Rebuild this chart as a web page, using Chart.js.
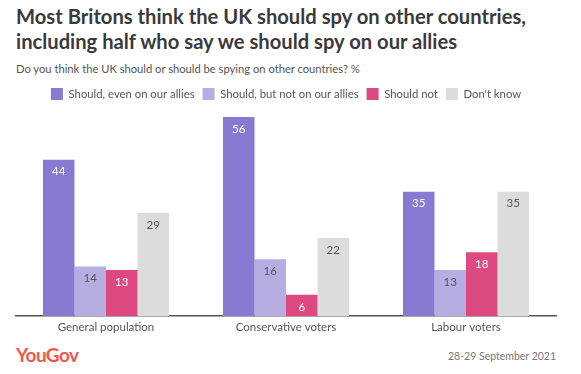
<!DOCTYPE html>
<html>
<head>
<meta charset="utf-8">
<script src="https://cdn.jsdelivr.net/npm/chart.js@4"></script>
<style>
  html,body{margin:0;padding:0;background:#fff;}
  body{width:581px;height:374px;position:relative;overflow:hidden;font-family:Lato,'Open Sans',sans-serif;}
  #title{position:absolute;left:16px;top:4px;font-size:20.2px;font-weight:700;color:#3a3a3a;line-height:25px;}
  #sub{position:absolute;left:16px;top:62px;font-size:11.2px;color:#555;}
  #wrap{position:absolute;left:0;top:80px;width:581px;height:258px;}
  #logo{position:absolute;left:16px;top:343px;font-size:19px;font-weight:700;color:#f4574b;letter-spacing:-0.6px;}
  #date{position:absolute;right:25px;top:350px;font-size:10.5px;color:#777;}
</style>
</head>
<body>
<div id="title">Most Britons think the UK should spy on other countries,<br>including half who say we should spy on our allies</div>
<div id="sub">Do you think the UK should or should be spying on other countries? %</div>
<div id="wrap"><canvas id="chart"></canvas></div>
<div id="logo">YouGov</div>
<div id="date">28-29 September 2021</div>
<script>
// ─── DATA ───────────────────────────────────────────────────────────
const groups = ['General population','Conservative voters','Labour voters'];
const seriesNames = ['Should, even on our allies','Should, but not on our allies','Should not',"Don't know"];
const evenAllies = [44,56,35];
const notAllies  = [14,16,13];
const shouldNot  = [13,6,18];
const dontKnow   = [29,22,35];

const colours    = ['#8879d1','#b6ade3','#dc4a7f','#dcdcdc'];
const labelCols  = ['#fff','#555','#fff','#555'];

// value labels just under each bar top
const barLabels = {
  id:'barLabels',
  afterDatasetsDraw(chart){
    const ctx=chart.ctx;
    ctx.save();
    ctx.font='11.5px Lato, sans-serif';
    ctx.textAlign='center';
    ctx.textBaseline='middle';
    chart.data.datasets.forEach((ds,i)=>{
      chart.getDatasetMeta(i).data.forEach((bar,j)=>{
        ctx.fillStyle=labelCols[i];
        ctx.fillText(ds.data[j], bar.x, bar.y+12);
      });
    });
    ctx.restore();
  }
};

const values=[evenAllies,notAllies,shouldNot,dontKnow];
new Chart(document.getElementById('chart'),{
  type:'bar',
  data:{
    labels:groups,
    datasets:values.map((v,i)=>({label:seriesNames[i],data:v,backgroundColor:colours[i],categoryPercentage:0.7,barPercentage:1}))
  },
  options:{
    responsive:true,maintainAspectRatio:false,animation:false,
    layout:{padding:{left:16,right:25,top:0,bottom:0}},
    plugins:{
      legend:{display:true,position:'top',
        labels:{boxWidth:12,boxHeight:12,padding:8,color:'#555',font:{family:'Lato',size:11.3}}},
      tooltip:{enabled:false}
    },
    scales:{
      x:{grid:{display:false,drawTicks:false},border:{display:true,color:'#555',width:1.5},
         ticks:{color:'#555',padding:4,font:{family:'Lato',size:11.5}}},
      y:{display:false,min:0,max:58}
    }
  },
  plugins:[barLabels]
});
</script>
</body>
</html>
